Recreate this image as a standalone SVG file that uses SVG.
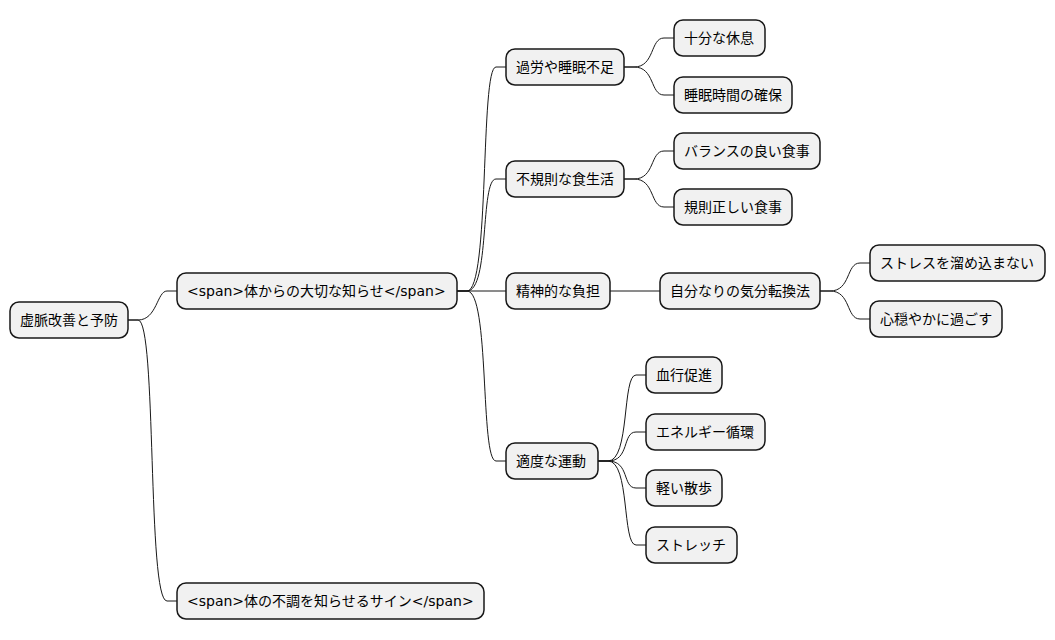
<svg xmlns="http://www.w3.org/2000/svg" width="1055" height="640" viewBox="0 0 1055 640">
<style>
.n rect{fill:#f1f1f1;stroke:#181818;stroke-width:1.5}
.n text{font-family:"DejaVu Sans","Noto Sans CJK JP",sans-serif;font-size:14px;fill:#000;dominant-baseline:central}
#c path{fill:none;stroke:#181818;stroke-width:1}
</style>
<rect width="1055" height="640" fill="#fff"/>
<g id="c">
<path d="M128,320 L138,320 C157,320 157,291 167,291 L177,291"/>
<path d="M128,320 L138,320 C157,320 147,601 167,601 L177,601"/>
<path d="M457,291 L467,291 C490,291 480,67 496,67 L506,67"/>
<path d="M457,291 L467,291 C490,291 480,179 496,179 L506,179"/>
<path d="M457,291 L506,291"/>
<path d="M457,291 L467,291 C490,291 480,461 496,461 L506,461"/>
<path d="M624,67 L634,67 C655,67 650,38 664,38 L674,38"/>
<path d="M624,67 L634,67 C655,67 650,95 664,95 L674,95"/>
<path d="M624,179 L634,179 C655,179 650,151 664,151 L674,151"/>
<path d="M624,179 L634,179 C655,179 650,207 664,207 L674,207"/>
<path d="M610,291 L660,291"/>
<path d="M820,291 L830,291 C851,291 846,263 860,263 L870,263"/>
<path d="M820,291 L830,291 C851,291 846,319 860,319 L870,319"/>
<path d="M598,461 L608,461 C630,461 622,375 636,375 L646,375"/>
<path d="M598,461 L608,461 C630,461 622,432 636,432 L646,432"/>
<path d="M598,461 L608,461 C630,461 622,488 636,488 L646,488"/>
<path d="M598,461 L608,461 C630,461 622,545 636,545 L646,545"/>
</g>
<g id="root" class="n"><rect x="10" y="302" width="118" height="36" rx="9"/><text x="20" y="320">虚脈改善と予防</text></g>
<g id="a" class="n"><rect x="177" y="273" width="280" height="36" rx="9"/><text x="187" y="291">&lt;span&gt;体からの大切な知らせ&lt;/span&gt;</text></g>
<g id="b" class="n"><rect x="177" y="583" width="307" height="36" rx="9"/><text x="187" y="601">&lt;span&gt;体の不調を知らせるサイン&lt;/span&gt;</text></g>
<g id="a1" class="n"><rect x="506" y="49" width="118" height="36" rx="9"/><text x="516" y="67">過労や睡眠不足</text></g>
<g id="a2" class="n"><rect x="506" y="161" width="118" height="36" rx="9"/><text x="516" y="179">不規則な食生活</text></g>
<g id="a3" class="n"><rect x="506" y="273" width="104" height="36" rx="9"/><text x="516" y="291">精神的な負担</text></g>
<g id="a4" class="n"><rect x="506" y="443" width="92" height="36" rx="9"/><text x="516" y="461">適度な運動</text></g>
<g id="a1a" class="n"><rect x="674" y="20" width="91" height="36" rx="9"/><text x="684" y="38">十分な休息</text></g>
<g id="a1b" class="n"><rect x="674" y="77" width="118" height="36" rx="9"/><text x="684" y="95">睡眠時間の確保</text></g>
<g id="a2a" class="n"><rect x="674" y="133" width="146" height="36" rx="9"/><text x="684" y="151">バランスの良い食事</text></g>
<g id="a2b" class="n"><rect x="674" y="189" width="118" height="36" rx="9"/><text x="684" y="207">規則正しい食事</text></g>
<g id="a3a" class="n"><rect x="660" y="273" width="160" height="36" rx="9"/><text x="670" y="291">自分なりの気分転換法</text></g>
<g id="a3a1" class="n"><rect x="870" y="245" width="175" height="36" rx="9"/><text x="880" y="263">ストレスを溜め込まない</text></g>
<g id="a3a2" class="n"><rect x="870" y="301" width="132" height="36" rx="9"/><text x="880" y="319">心穏やかに過ごす</text></g>
<g id="a4a" class="n"><rect x="646" y="357" width="76" height="36" rx="9"/><text x="656" y="375">血行促進</text></g>
<g id="a4b" class="n"><rect x="646" y="414" width="119" height="36" rx="9"/><text x="656" y="432">エネルギー循環</text></g>
<g id="a4c" class="n"><rect x="646" y="470" width="76" height="36" rx="9"/><text x="656" y="488">軽い散歩</text></g>
<g id="a4d" class="n"><rect x="646" y="527" width="91" height="36" rx="9"/><text x="656" y="545">ストレッチ</text></g>
</svg>
